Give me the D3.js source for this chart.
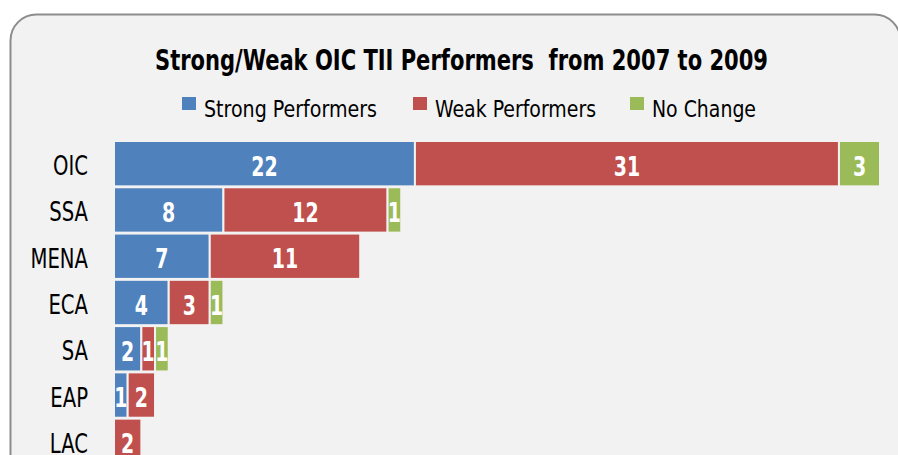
<!DOCTYPE html>
<html>
<head>
<meta charset="utf-8">
<script src="https://cdn.jsdelivr.net/npm/d3@7"></script>
<style>
  body { margin: 0; background: #fff; }
  svg text { font-family: "Liberation Sans Narrow", "DejaVu Sans Condensed", "Roboto", sans-serif; font-stretch: condensed; }
</style>
</head>
<body>
<div id="chart"></div>
<script>
// chart data
var regions = ["OIC", "SSA", "MENA", "ECA", "SA", "EAP", "LAC"];
var strong = [22, 8, 7, 4, 2, 1, 0];
var weak = [31, 12, 11, 3, 1, 2, 2];
var noChange = [3, 1, 0, 1, 1, 0, 0];
var seriesNames = ["Strong Performers", "Weak Performers", "No Change"];
var seriesColors = ["#4f81bd", "#c0504d", "#9bbb59"];

var width = 898,
    height = 455;

// squeeze text horizontally, the original face is a narrow one
function squeeze(sel, k) {
    sel.each(function() {
        var w = this.getComputedTextLength();
        d3.select(this)
            .attr("textLength", w * k)
            .attr("lengthAdjust", "spacingAndGlyphs");
    });
}

var svg = d3.select("#chart")
    .append("svg")
    .attr("width", width)
    .attr("height", height);

// rounded panel, runs off the right and bottom edge
svg.append("rect")
    .attr("x", 10.5)
    .attr("y", 14.5)
    .attr("width", 890)
    .attr("height", 480)
    .attr("rx", 26)
    .attr("fill", "#f2f2f2")
    .attr("stroke", "#8c8c8c")
    .attr("stroke-width", 2);

svg.append("text")
    .attr("x", 461.5)
    .attr("y", 70)
    .attr("text-anchor", "middle")
    .attr("font-size", 29)
    .attr("font-weight", "bold")
    .attr("fill", "#000")
    .attr("xml:space", "preserve")
    .attr("textLength", 613)
    .attr("lengthAdjust", "spacingAndGlyphs")
    .text("Strong/Weak OIC TII Performers  from 2007 to 2009");

// legend
var legendX = [182, 413, 630];
var legendW = [173, 161, 104];
var legend = svg.selectAll(".legend")
    .data(seriesNames)
    .enter().append("g")
    .attr("class", "legend")
    .attr("transform", function(d, i) { return "translate(" + legendX[i] + ",97)"; });

legend.append("rect")
    .attr("width", 14)
    .attr("height", 13)
    .attr("fill", function(d, i) { return seriesColors[i]; });

legend.append("text")
    .attr("x", 22)
    .attr("y", 20)
    .attr("font-size", 23)
    .attr("fill", "#000")
    .attr("textLength", function(d, i) { return legendW[i]; })
    .attr("lengthAdjust", "spacingAndGlyphs")
    .text(function(d) { return d; });

// stacked rows
var rows = regions.map(function(r, i) {
    return { region: r, strong: strong[i], weak: weak[i], noChange: noChange[i] };
});
var stack = d3.stack().keys(["strong", "weak", "noChange"])(rows);

var x = d3.scaleLinear()
    .domain([0, 56])
    .range([114, 880]);

var y = d3.scaleBand()
    .domain(regions)
    .range([141, 464])
    .paddingInner(0.02);

var layer = svg.selectAll(".layer")
    .data(stack)
    .enter().append("g")
    .attr("class", "layer")
    .attr("fill", function(d, i) { return seriesColors[i]; });

layer.selectAll("rect")
    .data(function(d) { return d.filter(function(p) { return p[1] > p[0]; }); })
    .enter().append("rect")
    .attr("x", function(d) { return x(d[0]); })
    .attr("y", function(d) { return y(d.data.region); })
    .attr("width", function(d) { return x(d[1]) - x(d[0]); })
    .attr("height", y.bandwidth())
    .attr("stroke", "#f2f2f2")
    .attr("stroke-width", 2);

var values = layer.selectAll("text")
    .data(function(d) { return d.filter(function(p) { return p[1] > p[0]; }); })
    .enter().append("text")
    .attr("x", function(d) { return (x(d[0]) + x(d[1])) / 2; })
    .attr("y", function(d) { return y(d.data.region) + y.bandwidth() / 2 + 12; })
    .attr("text-anchor", "middle")
    .attr("font-size", 27)
    .attr("font-weight", "bold")
    .attr("fill", "#fff")
    .text(function(d) { return d[1] - d[0]; });
squeeze(values, 0.78);

// category axis, no line or ticks
var yAxis = svg.append("g")
    .attr("transform", "translate(96,0)")
    .call(d3.axisLeft(y).tickSize(0).tickPadding(8));
yAxis.select(".domain").remove();
yAxis.attr("font-family", null);
yAxis.selectAll("text")
    .attr("font-size", 26)
    .attr("fill", "#000")
    .attr("dy", "0.44em");
squeeze(yAxis.selectAll("text"), 0.84);
</script>
</body>
</html>
